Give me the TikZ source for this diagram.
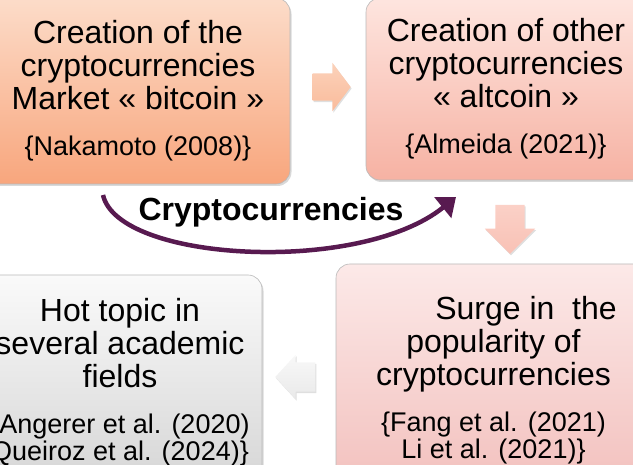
\documentclass[tikz,border=0pt]{standalone}
\usepackage{fontspec}
\setmainfont{Liberation Sans}
\usetikzlibrary{shapes.arrows,shadows,positioning,arrows.meta}

\definecolor{bitcointop}{HTML}{FCDCC9}
\definecolor{bitcoinbot}{HTML}{F8A67D}
\definecolor{altcointop}{HTML}{FEE5DF}
\definecolor{altcoinbot}{HTML}{F6B2A3}
\definecolor{surgetop}{HTML}{FCE9E8}
\definecolor{surgebot}{HTML}{F2BFBC}
\definecolor{hottop}{HTML}{FAFAFA}
\definecolor{hotbot}{HTML}{D5D5D5}
\definecolor{cycle}{RGB}{88,26,80}

\newcommand\citesz{\fontsize{27}{27}\selectfont}

\begin{document}
\begin{tikzpicture}[x=1pt, y=-1pt,
    % General options for the four boxes
    box/.style={draw=gray!55, line width=0.6pt, rounded corners=14pt,
      align=center, inner sep=0pt,
      font=\fontsize{32}{33}\selectfont,
      drop shadow={opacity=0.3, shadow xshift=1.5pt, shadow yshift=-2pt}},
    % Block arrows between the boxes (shaft width = 2 x inner ysep)
    blockarrow/.style={single arrow, draw=none, inner xsep=0pt,
      text height=0pt, text depth=0pt, text width=0pt,
      single arrow head indent=0pt,
      drop shadow={opacity=0.25, shadow xshift=1pt, shadow yshift=-1.5pt}},
    cyclearrow/.style={draw=cycle, line width=4.5pt,
      -{Triangle[length=17pt,width=26pt]}}]

  \useasboundingbox (0,0) rectangle (633,465);

  % the four stages
  \node[box, top color=bitcointop, bottom color=bitcoinbot,
    minimum width=304, minimum height=186] (bitcoin) at (138,91)
    {Creation of the\\ cryptocurrencies\\ Market « bitcoin »\\[13pt]
     {\citesz \{Nakamoto (2008)\}}};
  \node[box, top color=altcointop, bottom color=altcoinbot,
    minimum width=280, minimum height=182] (altcoin) at (506,89)
    {Creation of other\\ cryptocurrencies\\ « altcoin »\\[13pt]
     {\citesz \{Almeida (2021)\}}};
  \node[box, top color=surgetop, bottom color=surgebot,
    minimum width=315, minimum height=232] (surge) at (493.5,380)
    {\hspace*{65pt}Surge in\ \ the\\ popularity of\\ cryptocurrencies\\[13pt]
     {\citesz \{Fang et al. (2021)}\\[-6pt] {\citesz Li et al. (2021)\}}};
  \node[box, top color=hottop, bottom color=hotbot,
    minimum width=284, minimum height=214] (hot) at (120,382)
    {Hot topic in\\ several academic\\ fields\\[13pt]
     {\citesz \{Angerer et al. (2020)}\\[-6pt] {\citesz Queiroz et al. (2024)\}}};

  % arrows from stage to stage
  \node[blockarrow, top color=bitcointop!80!bitcoinbot, bottom color=bitcointop!40!bitcoinbot,
    inner ysep=13.5, minimum height=38, single arrow head extend=10.5,
    single arrow tip angle=106] (a1) at (326.5,87) {};
  \node[blockarrow, top color=altcointop!60!altcoinbot, bottom color=altcointop!30!altcoinbot,
    rotate=-90, inner ysep=14.5, minimum height=49,
    single arrow head extend=10.5, single arrow tip angle=90] (a2) at (510,222) {};
  \node[blockarrow, top color=hottop!95!hotbot, bottom color=hottop!55!hotbot,
    rotate=180, inner ysep=14.5, minimum height=40,
    single arrow head extend=7.5, single arrow tip angle=95] (a3) at (302,377) {};

  % the curved arrow under the top row
  \coordinate (cstart) at (103,195);
  \coordinate (cend) at (456,197);
  \draw[cyclearrow] (cstart) .. controls (118,262) and (360,275) .. (cend);
  \node[font=\bfseries\fontsize{32}{33}\selectfont] (crypto) at (271,212) {Cryptocurrencies};
\end{tikzpicture}
\end{document}
